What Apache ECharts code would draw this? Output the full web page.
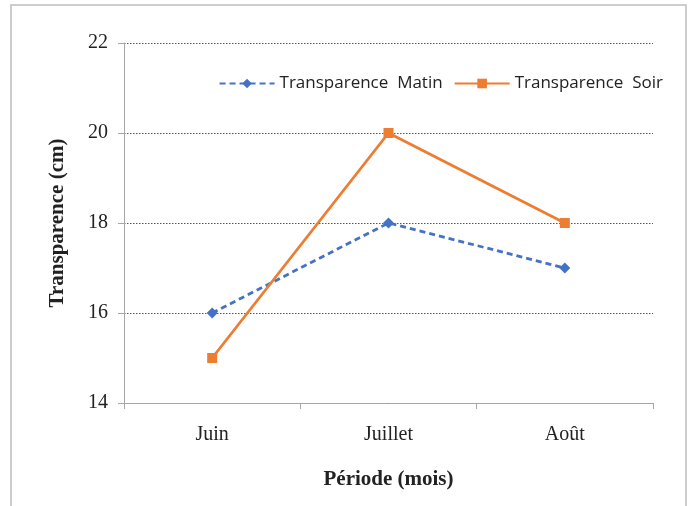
<!DOCTYPE html>
<html><head><meta charset="utf-8">
<script src="https://cdn.jsdelivr.net/npm/echarts@6/dist/echarts.min.js"></script>
<style>html,body{margin:0;padding:0;background:#fff}#c{width:692px;height:506px}</style>
</head><body><div id="c"></div>
<script>
const categories = ['Juin', 'Juillet', 'Août'];
const matin = [16, 18, 17];
const soir = [15, 20, 18];
const yTicks = [14, 16, 18, 20, 22];

const chart = echarts.init(document.getElementById('c'), null, {renderer: 'canvas'});
const serif = '"Liberation Serif", "Times New Roman", serif';
chart.setOption({
  animation: false,
  backgroundColor: '#fff',
  graphic: [{
    type: 'rect', shape: {x: 11, y: 5, width: 675, height: 520},
    style: {fill: 'none', stroke: '#bdbdbd', lineWidth: 1.5}, silent: true
  }],
  grid: {left: 124, right: 39, top: 43, bottom: 103},
  legend: {
    top: 70, right: 24, itemWidth: 55, itemHeight: 12, itemGap: 11,
    textStyle: {fontFamily: '"Open Sans", sans-serif', fontSize: 17, color: '#222'},
    data: ['Transparence  Matin', 'Transparence  Soir']
  },
  xAxis: {
    type: 'category', data: categories, boundaryGap: true,
    name: 'Période (mois)', nameLocation: 'middle', nameGap: 66,
    nameTextStyle: {fontFamily: serif, fontSize: 21, fontWeight: 'bold', color: '#222'},
    axisLine: {lineStyle: {color: '#a6a6a6', width: 1}},
    axisTick: {show: true, length: 6, alignWithLabel: false, lineStyle: {color: '#a6a6a6'}},
    axisLabel: {fontFamily: serif, fontSize: 20, color: '#222', margin: 22},
    splitLine: {show: false}
  },
  yAxis: {
    type: 'value', min: yTicks[0], max: yTicks[yTicks.length - 1], interval: 2,
    name: 'Transparence (cm)', nameLocation: 'middle', nameGap: 56,
    nameTextStyle: {fontFamily: serif, fontSize: 21, fontWeight: 'bold', color: '#222'},
    axisLine: {show: true, lineStyle: {color: '#a6a6a6', width: 1}},
    axisTick: {show: true, length: 6, lineStyle: {color: '#a6a6a6'}},
    axisLabel: {fontFamily: serif, fontSize: 20, color: '#222', margin: 16},
    splitLine: {show: true, lineStyle: {color: '#555', type: [1.5, 1.5], width: 1}}
  },
  series: [{
    name: 'Transparence  Matin', type: 'line', data: matin,
    symbol: 'diamond', symbolSize: 11,
    itemStyle: {color: '#4472C4'},
    lineStyle: {color: '#4472C4', width: 2.8, type: [6, 4]}
  }, {
    name: 'Transparence  Soir', type: 'line', data: soir,
    symbol: 'rect', symbolSize: 10,
    itemStyle: {color: '#ED7D31'},
    lineStyle: {color: '#ED7D31', width: 2.8}
  }]
});
</script></body></html>
